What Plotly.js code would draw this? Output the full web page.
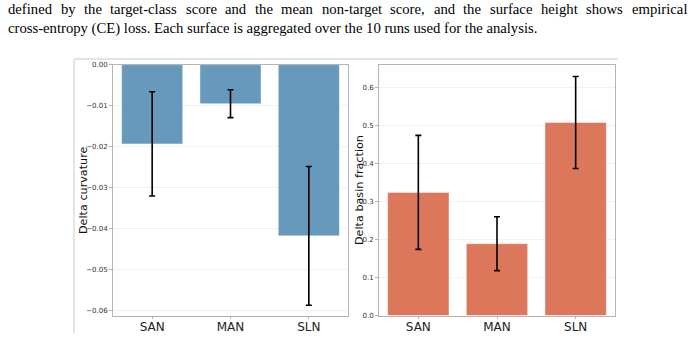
<!DOCTYPE html>
<html>
<head>
<meta charset="utf-8">
<script src="https://cdn.plot.ly/plotly-3.0.1.min.js"></script>
<style>
  html, body { margin: 0; padding: 0; background: #ffffff; }
  #chart { width: 692px; height: 339px; }
</style>
</head>
<body>
<div id="chart"></div>
<script>
// Categories and per-condition statistics (mean and error half-width)
const categories = ['SAN', 'MAN', 'SLN'];
const curvatureMean = [-0.0193, -0.0095, -0.0417];
const curvatureErr = [0.0127, 0.0034, 0.0169];
const basinMean = [0.324, 0.189, 0.508];
const basinErr = [0.150, 0.071, 0.121];

const captionLines = [
  'defined by the target-class score and the mean non-target score, and the surface height shows empirical',
  'cross-entropy (CE) loss. Each surface is aggregated over the 10 runs used for the analysis.'
];
const yTitles = ['Delta curvature', 'Delta basin fraction'];

const W = 692, H = 339;
const px = v => v / W;
const py = v => 1 - v / H;

const blue = '#6699bc';
const orange = '#dc775b';
const serif = 'Times New Roman';
const captionSize = 14.7;
const textLeft = 7, textRight = 686;

const traces = [
  {
    type: 'bar', x: categories, y: curvatureMean,
    marker: { color: blue, line: { color: 'rgba(255,255,255,0.45)', width: 1 } },
    error_y: { type: 'data', array: curvatureErr, visible: true, color: '#000', thickness: 1.6, width: 3 },
    xaxis: 'x', yaxis: 'y', hoverinfo: 'skip'
  },
  {
    type: 'bar', x: categories, y: basinMean,
    marker: { color: orange, line: { color: 'rgba(255,255,255,0.45)', width: 1 } },
    error_y: { type: 'data', array: basinErr, visible: true, color: '#000', thickness: 1.6, width: 3 },
    xaxis: 'x2', yaxis: 'y2', hoverinfo: 'skip'
  }
];

const axisFrame = {
  showline: true, mirror: true, linecolor: '#b4b4b4', linewidth: 1,
  automargin: false, zeroline: false
};
const xCommon = Object.assign({}, axisFrame, {
  ticks: 'outside', ticklen: 2, tickcolor: '#b4b4b4', showgrid: false,
  ticklabelstandoff: -2,
  tickfont: { family: 'DejaVu Sans', size: 12, color: '#222' }
});
const yCommon = Object.assign({}, axisFrame, {
  ticks: 'outside', ticklen: 3, tickcolor: '#b4b4b4',
  showgrid: true, gridcolor: '#f1f1f1', gridwidth: 1,
  tickfont: { family: 'DejaVu Sans', size: 7, color: '#333' }
});

const yDomain = [py(315.5), py(64.7)];
const titleFont = { family: 'DejaVu Sans', size: 11.2, color: '#111' };

// Caption text: the first line is split into words that are later spread to
// full justification; the last line is set flush left.
const captionNotes = [];
const justifiedWords = captionLines[0].split(' ');
captionLines.forEach((line, i) => {
  const y = py(9 + i * 19);
  const font = { family: serif, size: captionSize, color: '#000' };
  const pieces = i === 0 ? justifiedWords : [line];
  pieces.forEach(w => captionNotes.push({
    text: w, xref: 'paper', yref: 'paper', x: px(textLeft), y: y,
    xanchor: 'left', yanchor: 'middle', showarrow: false, font: font, borderpad: 0
  }));
});

const titleNotes = yTitles.map((t, i) => ({
  text: t, xref: 'paper', yref: 'paper', x: px([83, 359][i]), y: py(190),
  xanchor: 'center', yanchor: 'middle', textangle: -90, showarrow: false,
  font: titleFont
}));

const layout = {
  width: W, height: H,
  margin: { l: 0, r: 0, t: 0, b: 0 },
  paper_bgcolor: '#ffffff', plot_bgcolor: '#ffffff',
  showlegend: false,
  bargap: 0.22,
  xaxis: Object.assign({}, xCommon, { domain: [px(113), px(348)], anchor: 'y' }),
  yaxis: Object.assign({}, yCommon, {
    domain: yDomain, anchor: 'x', range: [-0.0611, 0],
    tickvals: [0, -0.01, -0.02, -0.03, -0.04, -0.05, -0.06], tickformat: '.2f'
  }),
  xaxis2: Object.assign({}, xCommon, { domain: [px(379), px(615)], anchor: 'y2' }),
  yaxis2: Object.assign({}, yCommon, {
    domain: yDomain, anchor: 'x2', range: [0, 0.66],
    tickvals: [0, 0.1, 0.2, 0.3, 0.4, 0.5, 0.6], tickformat: '.1f'
  }),
  shapes: [
    { type: 'line', xref: 'paper', yref: 'paper', x0: px(74), x1: px(618), y0: py(59), y1: py(59),
      line: { color: '#c8c8c8', width: 1 } },
    { type: 'line', xref: 'paper', yref: 'paper', x0: px(74), x1: px(74), y0: py(59), y1: py(333),
      line: { color: '#c8c8c8', width: 1 } }
  ],
  annotations: captionNotes.concat(titleNotes)
};

Plotly.newPlot('chart', traces, layout, { staticPlot: true, displayModeBar: false }).then(gd => {
  // Justify the first caption line using the rendered word widths.
  const widths = justifiedWords.map((w, k) => {
    const node = gd.querySelector('.annotation[data-index="' + k + '"] .annotation-text');
    return node ? node.getComputedTextLength() : 0;
  });
  const total = widths.reduce((a, b) => a + b, 0);
  const gap = (textRight - textLeft - total) / (justifiedWords.length - 1);
  const update = {};
  let x = textLeft;
  widths.forEach((wd, k) => {
    update['annotations[' + k + '].x'] = px(x);
    x += wd + gap;
  });
  return Plotly.relayout(gd, update);
});
</script>
</body>
</html>
